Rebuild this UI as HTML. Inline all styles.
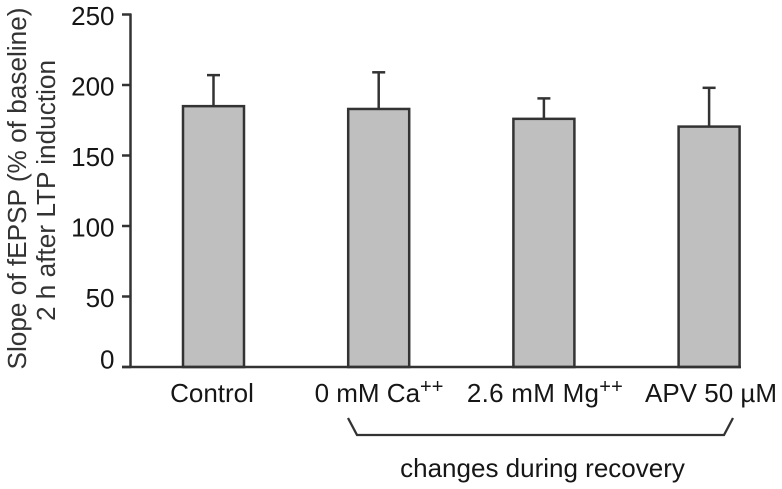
<!DOCTYPE html>
<html>
<head>
<meta charset="utf-8">
<style>
html,body{margin:0;padding:0;background:#fff;width:782px;height:489px;overflow:hidden}
svg{display:block}
text{font-family:"Liberation Sans",Arial,sans-serif;fill:#161616}
</style>
</head>
<body>
<svg id="chart" width="782" height="489" viewBox="0 0 782 489">
  <g id="bars"></g>
  <g id="y-axis"></g>
  <g id="x-axis">
    <text x="212" y="402" font-size="26" text-anchor="middle">Control</text>
    <text x="379" y="402" font-size="26" text-anchor="middle">0 mM Ca<tspan font-size="20" dy="-9">++</tspan></text>
    <text x="545" y="402" font-size="26" text-anchor="middle" letter-spacing="0.25">2.6 mM Mg<tspan font-size="20" dy="-9">++</tspan></text>
    <text x="711" y="402" font-size="26" text-anchor="middle">APV 50 µM</text>
  </g>
  <text transform="translate(26,188.5) rotate(-90)" font-size="26.2" text-anchor="middle" style="fill:#333">Slope of fEPSP (% of baseline)</text>
  <text transform="translate(55,190.5) rotate(-90)" font-size="26.2" text-anchor="middle" style="fill:#333">2 h after LTP induction</text>
  <polyline points="348,418 357,435 724,435 733,418" fill="none" stroke="#333" stroke-width="2.3"></polyline>
  <text x="542.5" y="477" font-size="26" text-anchor="middle">changes during recovery</text>
</svg>
<script>
const categories = ["Control", "0 mM Ca++", "2.6 mM Mg++", "APV 50 µM"];
const means = [185, 183, 176, 170.5];
const errors = [22, 26, 14.5, 27.5];
const yTicks = [0, 50, 100, 150, 200, 250];

const NS = "http://www.w3.org/2000/svg";
const y = v => 367 - v * 1.41;
const xCenter = i => 213.5 + i * 165.2;
const BAR_W = 61;
const INK = "#333";

function make(parent, tag, attrs) {
  const el = document.createElementNS(NS, tag);
  for (const k in attrs) el.setAttribute(k, attrs[k]);
  parent.appendChild(el);
  return el;
}

const barsG = document.getElementById("bars");
categories.forEach((c, i) => {
  const cx = xCenter(i);
  const top = y(means[i]);
  const errTop = y(means[i] + errors[i]);
  const stem = make(barsG, "line", {x1: cx, x2: cx, y1: top, y2: errTop, stroke: INK, "stroke-width": 2.5});
  
  
  const cap = make(barsG, "line", {x1: cx - 6.5, x2: cx + 6.5, y1: errTop, y2: errTop, stroke: INK, "stroke-width": 2.5});
  
  
  const bar = make(barsG, "rect", {x: cx - BAR_W / 2, y: top, width: BAR_W, height: y(0) - top, fill: "#bfbfbf", stroke: INK, "stroke-width": 2.5});
  
  
});

const axisG = document.getElementById("y-axis");
const spine = make(axisG, "line", {x1: 130.5, x2: 130.5, y1: y(250) - 1, y2: y(0) + 1, stroke: INK, "stroke-width": 2.5});


const base = make(axisG, "line", {x1: 122, x2: 741, y1: y(0), y2: y(0), stroke: INK, "stroke-width": 2.5});


yTicks.forEach(t => {
  const tick = make(axisG, "line", {x1: 122, x2: 131, y1: y(t), y2: y(t), stroke: INK, "stroke-width": 2.5});
  
  
  const label = make(axisG, "text", {x: 114.5, y: y(t) + (t === 0 ? 1.5 : 10.5), "font-size": 26, "text-anchor": "end"});
  label.textContent = t;
  
  
});
</script>
</body>
</html>
